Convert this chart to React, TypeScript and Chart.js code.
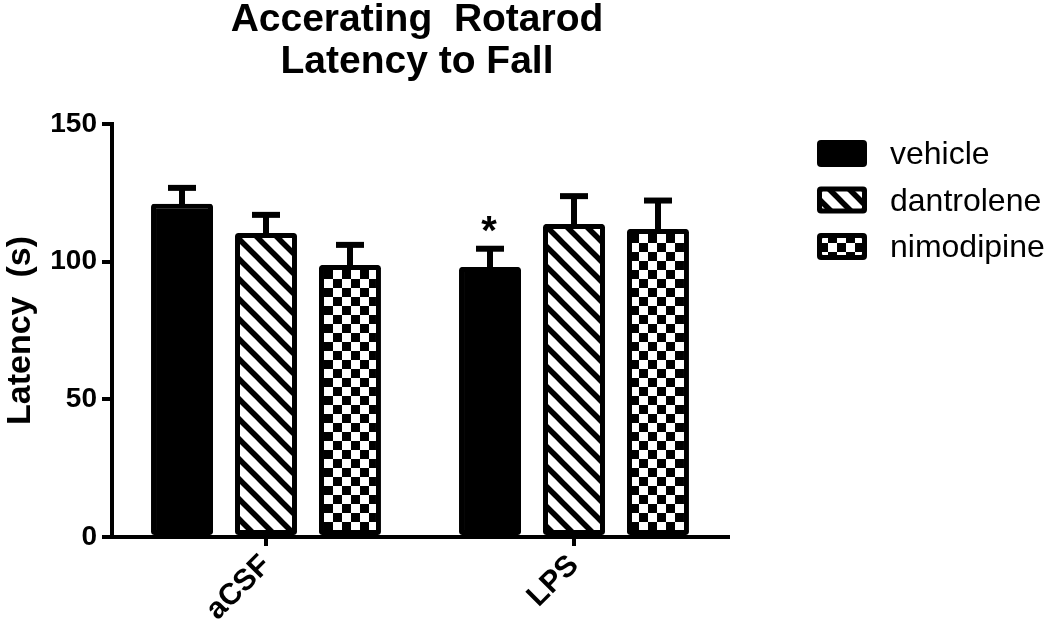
import React, { useEffect, useRef } from "react";
import { Chart, registerables } from "chart.js";

Chart.register(...registerables);

const categories = ["aCSF", "LPS"];
const seriesNames = ["vehicle", "dantrolene", "nimodipine"];
const vehicleMeans = [121.0, 98.1];
const dantroleneMeans = [110.4, 113.7];
const nimodipineMeans = [98.8, 111.9];
const vehicleSem = [5.8, 6.6];
const dantroleneSem = [6.6, 10.1];
const nimodipineSem = [7.3, 10.3];
const vehicleMarks = ["", "*"];
const dantroleneMarks = ["", ""];
const nimodipineMarks = ["", ""];
const yTicks = [0, 50, 100, 150];
const titleLines = ["Accerating  Rotarod", "Latency to Fall"];
const yTitle = "Latency  (s)";

const FONT = "'Liberation Sans', Arial, Helvetica, sans-serif";

function makeStripe(): CanvasPattern | string {
  const s = 20;
  const c = document.createElement("canvas");
  c.width = s;
  c.height = s;
  const g = c.getContext("2d");
  if (!g) return "#000";
  g.fillStyle = "#fff";
  g.fillRect(0, 0, s, s);
  g.strokeStyle = "#000";
  g.lineWidth = 5.5;
  g.lineCap = "square";
  for (const o of [-s, 0, s]) {
    g.beginPath();
    g.moveTo(o - 2, -2);
    g.lineTo(o + s + 2, s + 2);
    g.stroke();
  }
  return g.createPattern(c, "repeat") as CanvasPattern;
}

function makeChecker(): CanvasPattern | string {
  const s = 9;
  const c = document.createElement("canvas");
  c.width = s * 2;
  c.height = s * 2;
  const g = c.getContext("2d");
  if (!g) return "#000";
  g.fillStyle = "#fff";
  g.fillRect(0, 0, s * 2, s * 2);
  g.fillStyle = "#000";
  g.fillRect(0, 0, s, s);
  g.fillRect(s, s, s, s);
  return g.createPattern(c, "repeat") as CanvasPattern;
}

export default function App() {
  const ref = useRef<HTMLCanvasElement | null>(null);

  useEffect(() => {
    if (!ref.current) return;
    const fills = ["#000", makeStripe(), makeChecker()];
    const means = [vehicleMeans, dantroleneMeans, nimodipineMeans];
    const sems = [vehicleSem, dantroleneSem, nimodipineSem];
    const marks = [vehicleMarks, dantroleneMarks, nimodipineMarks];

    const errorPlugin = {
      id: "errbars",
      afterDatasetsDraw(chart: any) {
        const ctx = chart.ctx;
        const y = chart.scales.y;
        ctx.save();
        ctx.strokeStyle = "#000";
        ctx.lineWidth = 6;
        ctx.lineCap = "butt";
        chart.data.datasets.forEach((ds: any, di: number) => {
          const meta = chart.getDatasetMeta(di);
          meta.data.forEach((el: any, i: number) => {
            const v = ds.data[i];
            const top = y.getPixelForValue(v + sems[di][i]);
            const base = y.getPixelForValue(v);
            ctx.beginPath();
            ctx.moveTo(el.x, base + 2);
            ctx.lineTo(el.x, top);
            ctx.stroke();
            ctx.beginPath();
            ctx.moveTo(el.x - 14, top);
            ctx.lineTo(el.x + 14, top);
            ctx.stroke();
            const m = marks[di][i];
            if (m) {
              ctx.fillStyle = "#000";
              ctx.font = `bold 40px ${FONT}`;
              ctx.textAlign = "center";
              ctx.textBaseline = "alphabetic";
              ctx.fillText(m, el.x - 1, top - 5);
            }
          });
        });
        ctx.restore();
      },
    };

    const decoPlugin = {
      id: "deco",
      afterDraw(chart: any) {
        const ctx = chart.ctx;
        const area = chart.chartArea;
        ctx.save();
        ctx.fillStyle = "#000";
        ctx.textAlign = "center";
        ctx.textBaseline = "alphabetic";
        ctx.font = `bold 39px ${FONT}`;
        const cx = (area.left + area.right) / 2 - 3;
        ctx.fillText(titleLines[0], cx, 31);
        ctx.fillText(titleLines[1], cx, 73);

        // legend
        const lx = 817;
        let ly = 140;
        ctx.textAlign = "left";
        ctx.font = `32px ${FONT}`;
        seriesNames.forEach((name, i) => {
          const w = 50;
          const h = 27;
          ctx.beginPath();
          (ctx as any).roundRect(lx, ly, w, h, 4);
          ctx.fillStyle = "#000";
          ctx.fill();
          ctx.beginPath();
          (ctx as any).roundRect(lx + 5, ly + 5, w - 10, h - 10, 1);
          ctx.fillStyle = fills[i] as any;
          ctx.fill();
          ctx.fillStyle = "#000";
          ctx.fillText(name, lx + 73, ly + 24);
          ly += 46.5;
        });
        ctx.restore();
      },
    };

    const chart = new Chart(ref.current, {
      type: "bar",
      data: {
        labels: categories,
        datasets: seriesNames.map((name, i) => ({
          label: name,
          data: means[i],
          backgroundColor: fills[i] as any,
          borderColor: "#000",
          borderWidth: 5,
          borderSkipped: false,
          borderRadius: 3,
          categoryPercentage: 0.818,
          barPercentage: 0.738,
        })),
      },
      options: {
        animation: false,
        responsive: false,
        devicePixelRatio: 1,
        layout: { padding: { left: 0, right: 322, top: 124, bottom: 0 } },
        plugins: {
          legend: { display: false },
          title: { display: false },
          tooltip: { enabled: false },
        },
        scales: {
          x: {
            type: "category",
            offset: true,
            afterFit(scale: any) {
              scale.height = 89;
            },
            border: { display: true, color: "#000", width: 4 },
            grid: {
              display: true,
              offset: false,
              drawOnChartArea: false,
              drawTicks: true,
              tickLength: 9,
              lineWidth: 4,
              color: "#000",
            },
            ticks: {
              color: "#000",
              font: { family: FONT, size: 30, weight: "bold" },
              minRotation: 45,
              maxRotation: 45,
              padding: 2,
            },
          },
          y: {
            min: 0,
            max: 150,
            afterFit(scale: any) {
              scale.width = 112;
            },
            afterBuildTicks(scale: any) {
              scale.ticks = yTicks.map((v) => ({ value: v }));
            },
            border: { display: true, color: "#000", width: 4 },
            grid: {
              display: true,
              drawOnChartArea: false,
              drawTicks: true,
              tickLength: 10,
              lineWidth: 4,
              color: "#000",
            },
            ticks: {
              color: "#000",
              font: { family: FONT, size: 28, weight: "bold" },
              padding: 5,
            },
            title: {
              display: true,
              text: yTitle,
              color: "#000",
              font: { family: FONT, size: 34, weight: "bold" },
              padding: { top: 0, bottom: 0 },
            },
          },
        },
      },
      plugins: [errorPlugin, decoPlugin],
    });
    return () => chart.destroy();
  }, []);

  return (
    <div style={{ position: "fixed", left: 0, top: 0, width: 1050, height: 626, background: "#fff" }}>
      <canvas ref={ref} width={1050} height={626} style={{ width: 1050, height: 626 }} />
    </div>
  );
}
